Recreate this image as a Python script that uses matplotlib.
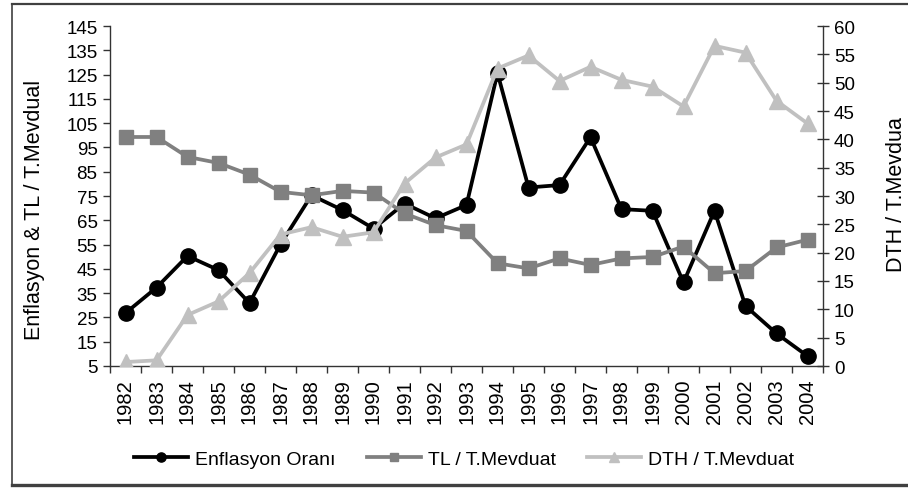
import matplotlib
matplotlib.use("Agg")
import matplotlib.pyplot as plt
from matplotlib.lines import Line2D

plt.rcParams['font.family'] = ['Liberation Sans', 'DejaVu Sans']

years = [str(y) for y in range(1982, 2005)]
enflasyon = [26.8, 37.3, 50.3, 44.5, 30.9, 55.1, 75.3, 69.2, 61.6, 71.9, 65.8,
             71.3, 125.6, 78.5, 79.5, 99.2, 69.6, 68.9, 39.4, 68.9, 29.7, 18.4, 9.1]
tl_mevduat = [99.3, 99.3, 91.1, 88.6, 83.8, 76.7, 75.3, 77.1, 76.4, 67.8, 63.0,
              60.6, 47.3, 45.2, 49.3, 46.6, 49.3, 49.9, 54.2, 43.2, 44.1, 53.8, 57.0]
dth_mevduat = [0.7, 1.0, 9.0, 11.4, 16.4, 23.2, 24.5, 22.8, 23.6, 32.2, 36.8,
               39.1, 52.5, 54.8, 50.3, 52.8, 50.5, 49.3, 45.8, 56.5, 55.3, 46.8, 42.8]

left_ticks = list(range(5, 146, 10))
right_ticks = list(range(0, 61, 5))

W, H = 908, 489
fig = plt.figure(figsize=(W / 100, H / 100), dpi=100)
ax = fig.add_axes([110 / W, 1 - 367 / H, (823 - 110) / W, (367 - 27) / H])
ax2 = ax.twinx()

x = list(range(len(years)))
YFS = 13.5
XFS = 14.5
LFS = 15.5
axcol = '#333333'

l1, = ax.plot(x, enflasyon, color='black', lw=2.7, marker='o', ms=11,
              label='Enflasyon Oranı', zorder=3)
l2, = ax.plot(x, tl_mevduat, color='#808080', lw=2.7, marker='s', ms=10.5,
              label='TL / T.Mevduat', zorder=4)
l3, = ax2.plot(x, dth_mevduat, color='#C0C0C0', lw=2.7, marker='^', ms=11.5,
               label='DTH / T.Mevduat', zorder=3)

ax.set_xlim(-0.5, len(years) - 0.5)
ax.set_ylim(5, 145)
ax2.set_ylim(0, 60)
ax.set_yticks(left_ticks)
ax.set_yticklabels([str(t) for t in left_ticks], fontsize=YFS)
ax2.set_yticks(right_ticks)
ax2.set_yticklabels([str(t) for t in right_ticks], fontsize=YFS)

ax.set_xticks(x)
ax.set_xticklabels(years, rotation=90, fontsize=XFS)
ax.set_xticks([i - 0.5 for i in range(len(years) + 1)], minor=True)
ax.tick_params(axis='x', which='major', length=0, pad=9)
ax.tick_params(axis='x', which='minor', length=5, direction='out', color=axcol, width=1)
ax.tick_params(axis='y', length=5, direction='out', color=axcol, width=1, pad=4)
ax2.tick_params(axis='y', length=8, direction='inout', color=axcol, width=1, pad=4)

for a in (ax, ax2):
    a.spines['top'].set_visible(False)
for s in ('left', 'bottom'):
    ax.spines[s].set_color(axcol)
    ax.spines[s].set_linewidth(1)
ax.spines['right'].set_visible(False)
ax2.spines['left'].set_visible(False)
ax2.spines['bottom'].set_visible(False)
ax2.spines['right'].set_color(axcol)
ax2.spines['right'].set_linewidth(1)

fig.text(35 / W, 1 - 210 / H, 'Enflasyon & TL / T.Mevdual', rotation=90,
         fontsize=LFS, ha='center', va='center')
fig.text(896 / W, 1 - 195 / H, 'DTH / T.Mevdua', rotation=90,
         fontsize=LFS, ha='center', va='center')

leg = fig.legend(handles=[l1, l2, l3], loc='center', bbox_to_anchor=(464 / W, 1 - 460 / H),
                 ncol=3, frameon=False, fontsize=14, handlelength=2.8,
                 handletextpad=0.35, columnspacing=1.6, markerscale=0.6)

# outer border
fig.add_artist(Line2D([12 / W, 12 / W], [1 - 5 / H, 1 - 486 / H], color='#404040', lw=1.2))
fig.add_artist(Line2D([12 / W, 1.0], [1 - 5 / H, 1 - 5 / H], color='#404040', lw=1.6))
fig.add_artist(Line2D([12 / W, 1.0], [1 - 486 / H, 1 - 486 / H], color='#404040', lw=2.4))

fig.savefig('out.png', dpi=100)
